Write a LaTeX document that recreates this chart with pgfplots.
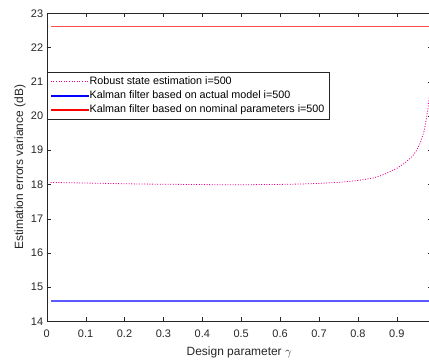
\documentclass[border=0pt]{standalone}
\usepackage{fontspec}
\setmainfont{Liberation Sans}
\usepackage{pgfplots}
\pgfplotsset{compat=1.18}
\definecolor{axgray}{rgb}{0.15,0.15,0.15}
\definecolor{mblue}{rgb}{0.35,0.35,1}
\definecolor{mred}{rgb}{1,0.3,0.3}
\begin{document}
\begin{tikzpicture}
\begin{axis}[
  scale only axis,
  width=385.1bp, height=308bp,
  xmin=0, xmax=0.99, ymin=14, ymax=23,
  xtick={0,0.1,0.2,0.3,0.4,0.5,0.6,0.7,0.8,0.9},
  ytick={14,15,16,17,18,19,20,21,22,23},
  tick align=inside,
  major tick length=4bp,
  axis line style={axgray},
  tick style={axgray},
  tick label style={font=\fontsize{11}{13}\selectfont, text=axgray},
  /pgf/number format/assume math mode=true,
  xticklabel style={/pgf/number format/fixed, /pgf/number format/precision=1, anchor=center, yshift=-12.7bp},
  xlabel={Design parameter $\gamma$},
  ylabel={Estimation errors variance (dB)},
  every axis x label/.style={at={(axis description cs:0.5,-0.0997)}, anchor=center, font=\fontsize{12}{14}\selectfont, text=axgray},
  every axis y label/.style={at={(axis description cs:-0.0693,0.5)}, anchor=center, rotate=90, font=\fontsize{12}{14}\selectfont, text=axgray},
  legend style={at={(axis cs:0,21.285)}, anchor=north west, draw=axgray,
    font=\fontsize{10.8}{13}\selectfont, inner xsep=3.5bp, inner ysep=3bp,
    nodes={inner sep=1.5bp, text depth=0.2em}, row sep=1.2bp, cells={anchor=west}},
  legend image code/.code={\draw[#1] (0bp,0bp) -- (37bp,0bp);},
]
\addplot[draw=magenta, line width=0.8bp, dash pattern=on 1bp off 1.6bp] coordinates {
(0.01,18.06) (0.05,18.05) (0.10,18.04) (0.15,18.03) (0.20,18.02) (0.25,18.01)
(0.30,18.005) (0.35,18.0) (0.40,17.995) (0.45,17.99) (0.50,17.99) (0.55,17.995)
(0.60,18.0) (0.65,18.01) (0.70,18.03) (0.75,18.06) (0.78,18.09) (0.81,18.13)
(0.84,18.19) (0.86,18.26) (0.88,18.36) (0.90,18.47) (0.92,18.62) (0.94,18.82)
(0.95,18.98) (0.96,19.2) (0.97,19.55) (0.975,19.85) (0.98,20.2) (0.985,20.7)
};
\addlegendentry{Robust state estimation i=500}
\addplot[draw=mblue, line width=1.5bp, forget plot] coordinates {(0.01,14.59) (0.99,14.59)};
\addlegendimage{legend image code/.code={\fill[blue] (0bp,-0.6bp) rectangle (37bp,0.6bp);}}
\addlegendentry{Kalman filter based on actual model i=500}
\addplot[draw=mred, line width=1.5bp, forget plot] coordinates {(0.01,22.61) (0.99,22.61)};
\addlegendimage{legend image code/.code={\fill[red] (0bp,-0.6bp) rectangle (37bp,0.6bp);}}
\addlegendentry{Kalman filter based on nominal parameters i=500}
\end{axis}
\pgfresetboundingbox
\useasboundingbox ([xshift=-46.7bp,yshift=-40.7bp]current axis.south west) rectangle ([xshift=-2.8bp,yshift=13.3bp]current axis.north east);
\end{tikzpicture}
\end{document}
